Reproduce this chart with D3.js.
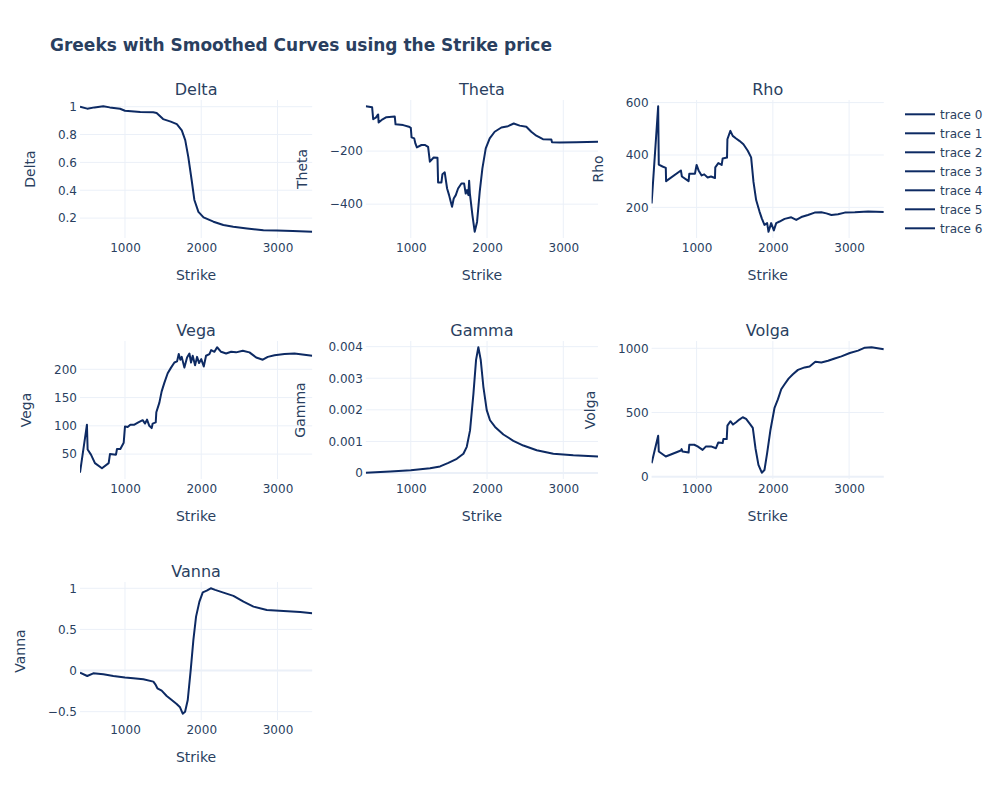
<!DOCTYPE html>
<html><head><meta charset="utf-8">
<script src="https://cdn.jsdelivr.net/npm/d3@7"></script>
<style>
body{margin:0;background:#fff}
svg{font-family:"DejaVu Sans",Verdana,sans-serif}
</style>
</head><body>
<svg id="chart" width="1000" height="800"></svg>
<script>
// ---------- data (strike, value) ----------
const deltaData = [[410,1.0],[505,0.986],[600,0.995],[715,1.003],[800,0.995],[935,0.985],[1000,0.971],[1200,0.962],[1370,0.96],[1415,0.955],[1500,0.911],[1600,0.893],[1680,0.875],[1745,0.83],[1790,0.76],[1830,0.64],[1875,0.47],[1910,0.33],[1963,0.245],[2030,0.205],[2160,0.174],[2290,0.15],[2420,0.138],[2600,0.126],[2815,0.112],[2990,0.111],[3200,0.107],[3455,0.102]];
const thetaData = [[410,-31],[493,-35],[507,-80],[545,-73],[565,-64],[572,-62],[578,-92],[630,-80],[680,-72],[790,-70],[800,-99],[900,-102],[975,-108],[1000,-112],[1010,-148],[1045,-152],[1060,-171],[1080,-186],[1140,-177],[1183,-177],[1227,-184],[1250,-240],[1300,-224],[1350,-225],[1358,-318],[1402,-318],[1415,-287],[1445,-280],[1476,-341],[1502,-366],[1524,-391],[1541,-410],[1563,-379],[1590,-366],[1620,-341],[1664,-322],[1699,-322],[1720,-360],[1738,-347],[1755,-366],[1765,-312],[1775,-360],[1808,-441],[1838,-504],[1869,-467],[1904,-353],[1939,-265],[1983,-190],[2035,-152],[2100,-127],[2188,-111],[2275,-106],[2350,-96],[2428,-104],[2515,-108],[2580,-127],[2646,-142],[2733,-155],[2843,-156],[2852,-167],[2952,-168],[3170,-167],[3455,-165]];
const rhoData = [[410,215],[496,586],[504,363],[553,356],[596,351],[600,300],[794,341],[807,318],[895,300],[904,328],[978,328],[1000,362],[1026,341],[1066,322],[1100,326],[1145,314],[1189,318],[1241,312],[1245,353],[1285,369],[1329,362],[1342,387],[1399,390],[1404,460],[1443,492],[1474,473],[1518,463],[1561,454],[1614,441],[1671,416],[1715,391],[1746,297],[1781,228],[1825,184],[1855,158],[1890,133],[1925,140],[1943,107],[1978,140],[2013,112],[2044,140],[2088,146],[2154,156],[2241,162],[2307,152],[2373,163],[2460,171],[2548,180],[2636,181],[2702,177],[2768,171],[2855,174],[2943,180],[3075,181],[3250,184],[3455,182]];
const vegaData = [[410,17],[501,102],[510,58],[554,49],[606,34],[698,25],[786,34],[803,50],[882,49],[895,59],[939,59],[983,70],[1000,99],[1035,98],[1070,102],[1123,102],[1175,106],[1232,110],[1263,104],[1289,111],[1319,100],[1350,96],[1363,104],[1403,106],[1411,124],[1451,141],[1481,161],[1516,176],[1560,193],[1604,203],[1648,212],[1683,214],[1705,227],[1726,217],[1744,222],[1779,203],[1814,221],[1845,228],[1866,212],[1888,224],[1919,207],[1945,222],[1972,211],[2000,218],[2033,205],[2063,224],[2107,227],[2130,234],[2173,231],[2208,239],[2260,231],[2326,228],[2392,231],[2457,230],[2545,233],[2632,230],[2720,221],[2807,217],[2873,222],[2961,225],[3092,227],[3223,228],[3455,224]];
const gammaData = [[410,0.00001],[730,0.00005],[1000,0.000085],[1253,0.00015],[1384,0.00021],[1493,0.00032],[1603,0.00045],[1690,0.00061],[1734,0.00083],[1777,0.00135],[1821,0.0025],[1856,0.00358],[1886,0.00398],[1917,0.00358],[1952,0.00273],[1996,0.00199],[2039,0.00167],[2105,0.00146],[2214,0.00122],[2345,0.00102],[2476,0.00087],[2651,0.00072],[2869,0.00061],[3131,0.00056],[3455,0.00052]];
const volgaData = [[410,105],[496,319],[504,196],[596,157],[794,204],[803,215],[816,196],[895,188],[904,249],[969,249],[1013,236],[1079,209],[1123,236],[1189,236],[1254,222],[1285,267],[1342,262],[1351,293],[1395,293],[1404,398],[1443,432],[1478,406],[1518,424],[1561,445],[1605,463],[1649,450],[1706,406],[1737,380],[1772,222],[1811,92],[1855,31],[1890,52],[1925,183],[1969,366],[2022,537],[2066,602],[2110,681],[2154,720],[2206,764],[2263,798],[2329,832],[2417,851],[2482,859],[2557,895],[2636,890],[2724,903],[2811,921],[2899,937],[3009,963],[3118,982],[3206,1005],[3294,1008],[3455,992]];
const vannaData = [[410,-0.026],[505,-0.066],[584,-0.034],[716,-0.046],[847,-0.066],[1000,-0.086],[1109,-0.094],[1241,-0.107],[1372,-0.135],[1403,-0.175],[1425,-0.216],[1481,-0.244],[1547,-0.309],[1613,-0.358],[1678,-0.407],[1722,-0.447],[1757,-0.525],[1788,-0.5],[1823,-0.358],[1862,0.007],[1897,0.372],[1932,0.655],[1976,0.838],[2020,0.951],[2072,0.972],[2125,1.0],[2182,0.98],[2291,0.947],[2422,0.907],[2554,0.838],[2685,0.777],[2860,0.737],[3079,0.724],[3298,0.712],[3455,0.696]];

// ---------- ticks ----------
const strikeTicks = [1000, 2000, 3000];
const deltaTicks = [0.2, 0.4, 0.6, 0.8, 1];
const deltaTickLabels = ["0.2", "0.4", "0.6", "0.8", "1"];
const thetaTicks = [-400, -200];
const thetaTickLabels = ["\u2212400", "\u2212200"];
const rhoTicks = [200, 400, 600];
const rhoTickLabels = ["200", "400", "600"];
const vegaTicks = [50, 100, 150, 200];
const vegaTickLabels = ["50", "100", "150", "200"];
const gammaTicks = [0, 0.001, 0.002, 0.003, 0.004];
const gammaTickLabels = ["0", "0.001", "0.002", "0.003", "0.004"];
const volgaTicks = [0, 500, 1000];
const volgaTickLabels = ["0", "500", "1000"];
const vannaTicks = [-0.5, 0, 0.5, 1];
const vannaTickLabels = ["\u22120.5", "0", "0.5", "1"];

const panelNames = ["Delta", "Theta", "Rho", "Vega", "Gamma", "Volga", "Vanna"];
const traceNames = ["trace 0", "trace 1", "trace 2", "trace 3", "trace 4", "trace 5", "trace 6"];
const titleText = "Greeks with Smoothed Curves using the Strike price";

// ---------- build ----------
const panels = [
  {name: panelNames[0], data: deltaData, ticks: deltaTicks, labels: deltaTickLabels},
  {name: panelNames[1], data: thetaData, ticks: thetaTicks, labels: thetaTickLabels},
  {name: panelNames[2], data: rhoData, ticks: rhoTicks, labels: rhoTickLabels},
  {name: panelNames[3], data: vegaData, ticks: vegaTicks, labels: vegaTickLabels},
  {name: panelNames[4], data: gammaData, ticks: gammaTicks, labels: gammaTickLabels},
  {name: panelNames[5], data: volgaData, ticks: volgaTicks, labels: volgaTickLabels},
  {name: panelNames[6], data: vannaData, ticks: vannaTicks, labels: vannaTickLabels}
];

const TXT = "#2a3f5f", GRID = "#EBF0F8", LINE = "#0D2A63";
const svg = d3.select("#chart");
svg.append("rect").attr("width", 1000).attr("height", 800).attr("fill", "#fff");

const plotL = 80, plotR = 883.8, plotT = 100, plotB = 720;
const colW = (plotR - plotL) * (1 - 2 * 0.0667) / 3;
const colGap = (plotR - plotL) * 0.0667;
const rowH = 138, rowGap = (plotB - plotT - 3 * rowH) / 2;

const defs = svg.append("defs");

panels.forEach((p, i) => {
  const col = i % 3, row = Math.floor(i / 3);
  const x0 = plotL + col * (colW + colGap), y0 = plotT + row * (rowH + rowGap);
  const w = colW, h = rowH;
  const xExt = d3.extent(p.data, d => d[0]);
  const yExt = d3.extent(p.data, d => d[1]);
  const pad = (yExt[1] - yExt[0]) * 0.05;
  const x = d3.scaleLinear().domain(xExt).range([0, w]);
  const y = d3.scaleLinear().domain([yExt[0] - pad, yExt[1] + pad]).range([h, 0]);
  const g = svg.append("g").attr("transform", `translate(${x0},${y0})`);

  // grid
  g.append("g").selectAll("line").data(strikeTicks).join("line")
    .attr("x1", d => x(d)).attr("x2", d => x(d)).attr("y1", 0).attr("y2", h)
    .attr("stroke", GRID).attr("stroke-width", 1);
  g.append("g").selectAll("line").data(p.ticks).join("line")
    .attr("x1", 0).attr("x2", w).attr("y1", d => y(d)).attr("y2", d => y(d))
    .attr("stroke", GRID).attr("stroke-width", d => d === 0 ? 2 : 1);

  // axes
  const xa = g.append("g").attr("transform", `translate(0,${h})`)
    .call(d3.axisBottom(x).tickValues(strikeTicks).tickSize(0).tickPadding(5).tickFormat(d3.format("d")));
  const ya = g.append("g")
    .call(d3.axisLeft(y).tickValues(p.ticks).tickSize(0).tickPadding(3).tickFormat((d, k) => p.labels[k]));
  [xa, ya].forEach(a => {
    a.select(".domain").remove();
    a.selectAll("text").attr("fill", TXT).style("font-size", "12px").style("font-family", '"DejaVu Sans",Verdana,sans-serif');
  });

  // line
  const cid = "clip" + i;
  defs.append("clipPath").attr("id", cid).append("rect").attr("width", w).attr("height", h);
  g.append("path").datum(p.data)
    .attr("clip-path", `url(#${cid})`)
    .attr("fill", "none").attr("stroke", LINE).attr("stroke-width", 2).attr("stroke-linejoin", "round")
    .attr("d", d3.line().x(d => x(d[0])).y(d => y(d[1])));

  // subplot title
  g.append("text").attr("x", w / 2).attr("y", -5).attr("text-anchor", "middle")
    .attr("fill", TXT).style("font-size", "16px").text(p.name);
  // x title
  g.append("text").attr("x", w / 2).attr("y", h + 41.5).attr("text-anchor", "middle")
    .attr("fill", TXT).style("font-size", "14px").text("Strike");
  // y title
  const bb = ya.node().getBBox();
  const tx = bb.x - 28;
  g.append("text").attr("transform", `translate(${tx},${h / 2}) rotate(-90)`)
    .attr("text-anchor", "middle").attr("dy", "0.35em")
    .attr("fill", TXT).style("font-size", "14px").text(p.name);
});

// main title
svg.append("text").attr("x", 50).attr("y", 51).attr("fill", TXT)
  .style("font-size", "17px").style("font-weight", "bold").text(titleText);

// legend
const lg = svg.append("g").attr("transform", "translate(905,114.3)");
traceNames.forEach((t, k) => {
  const r = lg.append("g").attr("transform", `translate(0,${k * 19})`);
  r.append("line").attr("x1", 0).attr("x2", 30).attr("y1", 0).attr("y2", 0)
    .attr("stroke", LINE).attr("stroke-width", 2);
  r.append("text").attr("x", 35).attr("y", 0).attr("dy", "0.35em")
    .attr("fill", TXT).style("font-size", "12px").text(t);
});
</script>
</body></html>
